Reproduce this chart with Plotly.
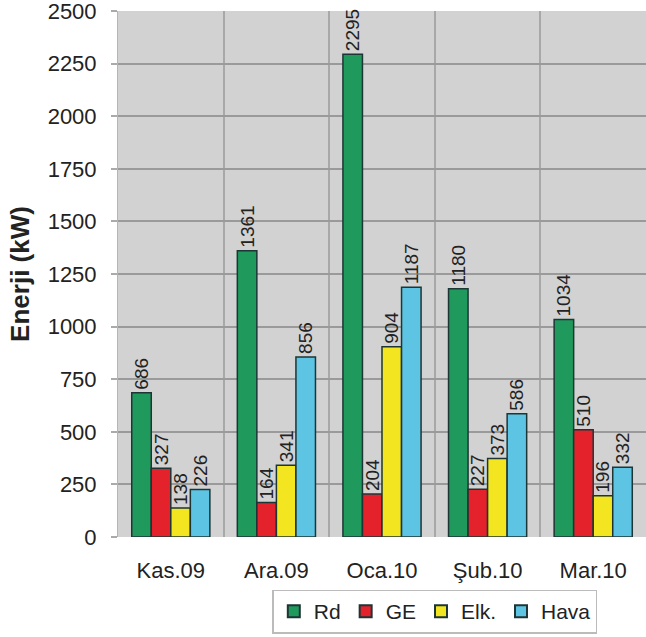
import plotly.graph_objects as go

categories = ["Kas.09", "Ara.09", "Oca.10", "Şub.10", "Mar.10"]
rd = [686, 1361, 2295, 1180, 1034]
ge = [327, 164, 204, 227, 510]
elk = [138, 341, 904, 373, 196]
hava = [226, 856, 1187, 586, 332]

series = [
    ("Rd", rd, "#1f9a5c"),
    ("GE", ge, "#e4222b"),
    ("Elk.", elk, "#f3e620"),
    ("Hava", hava, "#5ec4e3"),
]

FONT = "Liberation Sans, Arial, sans-serif"

fig = go.Figure()
for name, vals, color in series:
    fig.add_trace(go.Bar(
        name=name, x=categories, y=vals,
        marker=dict(color=color, line=dict(color="#1d3535", width=1.5)),
        text=[str(v) for v in vals], textposition="outside", textangle=-90,
        textfont=dict(family=FONT, size=19, color="#222"),
        constraintext="none", cliponaxis=False,
    ))

fig.update_layout(
    width=646, height=637,
    margin=dict(l=118, r=0, t=11, b=100, autoexpand=False),
    paper_bgcolor="white", plot_bgcolor="#d2d2d2",
    barmode="group", bargap=0.26, bargroupgap=0.0,
    font=dict(family=FONT, color="#222"),
    showlegend=True,
    legend=dict(orientation="h", x=0.6, xanchor="center", y=-0.1, yanchor="top",
                bordercolor="#bbbbbb", borderwidth=1.5, bgcolor="white",
                font=dict(size=21), itemsizing="constant", traceorder="normal",
                itemwidth=30, tracegroupgap=0),
)
fig.update_xaxes(
    tickson="boundaries", showgrid=True, gridcolor="#a8a8a8", gridwidth=2,
    ticks="", tickfont=dict(size=22), showline=False, zeroline=False,
    ticklabelstandoff=18,
)
fig.update_yaxes(
    range=[0, 2500], dtick=250, showgrid=True, gridcolor="#9a9a9a", gridwidth=2,
    ticks="outside", ticklen=6, tickcolor="#aaaaaa", tickwidth=2,
    ticklabelstandoff=10, tickfont=dict(size=22), ticklabeloverflow="allow",
    zeroline=False, showline=True, linecolor="#b5b5b5", linewidth=1,
    title=dict(text="<b>Enerji (kW)</b>", font=dict(size=26), standoff=10),
)

fig.write_html(
    "out.html",
    config={"displayModeBar": False},
    post_script="document.body.style.margin='0';document.body.style.overflow='hidden';",
)
